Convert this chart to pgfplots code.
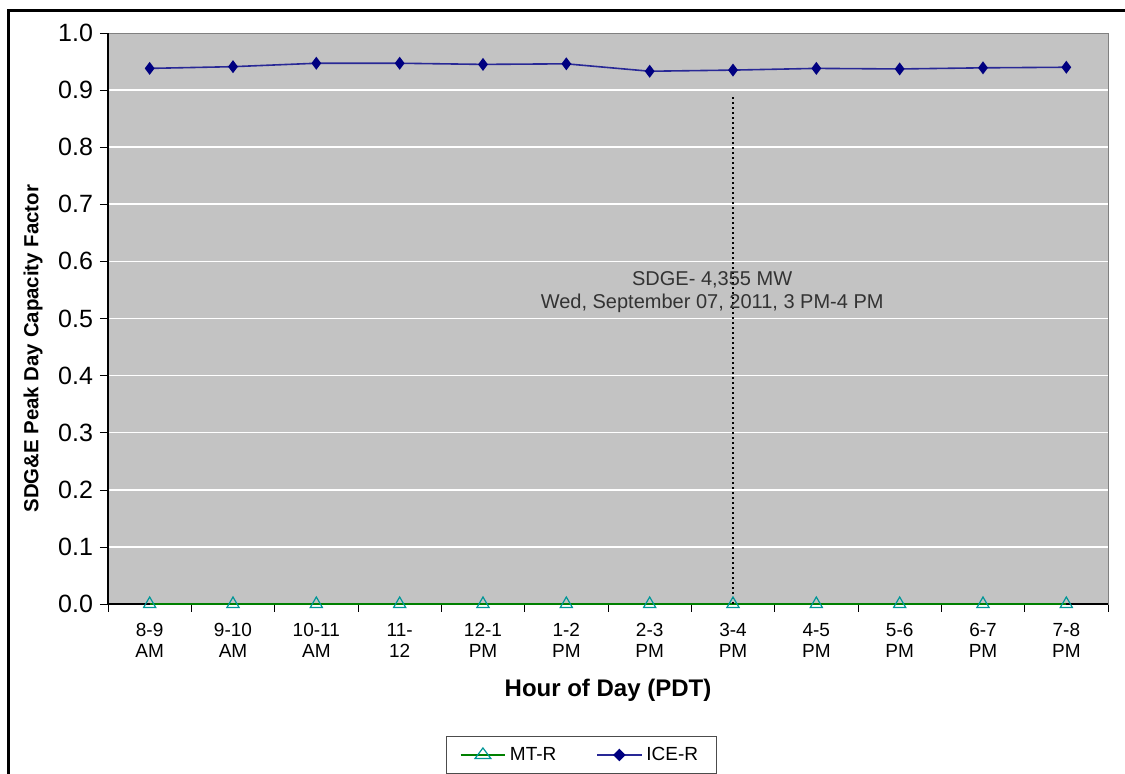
\documentclass[border=0pt]{standalone}
\usepackage{pgfplots}
\pgfplotsset{compat=1.18}
\usepackage{fontspec}
\setmainfont{Liberation Sans}
\definecolor{plotgray}{RGB}{195,195,195}
\definecolor{icecol}{RGB}{0,0,128}
\definecolor{icelinecol}{RGB}{40,40,150}
\definecolor{mtline}{RGB}{0,128,0}
\definecolor{mtmark}{RGB}{0,150,150}
\begin{document}
\begin{tikzpicture}
\draw[line width=1.5pt] (4.25pt,0) -- (4.25pt,381.5pt) -- (570pt,381.5pt);
\begin{axis}[
  at={(54pt,85pt)}, anchor=south west,
  scale only axis, width=500pt, height=285.5pt,
  xmin=-0.5, xmax=11.5, ymin=0, ymax=1,
  axis background/.style={fill=plotgray},
  axis line style={draw=gray},
  xtick pos=bottom, ytick pos=left,
  xtick={0,...,11},
  xticklabels={8-9\\AM,9-10\\AM,10-11\\AM,11-\\12,12-1\\PM,1-2\\PM,2-3\\PM,3-4\\PM,4-5\\PM,5-6\\PM,6-7\\PM,7-8\\PM},
  xticklabel style={align=center, font=\fontsize{9.5}{10.5}\selectfont, yshift=-2pt},
  major x tick style={draw=none},
  minor xtick={-0.5,0.5,...,11.5},
  minor x tick style={black},
  ytick={0,0.1,...,1.0},
  yticklabel style={font=\fontsize{12.5}{13}\selectfont},
  /pgf/number format/.cd, fixed, fixed zerofill, precision=1, assume math mode=true,
  /pgfplots/.cd,
  tick align=outside,
  major tick length=4pt, minor tick length=4pt,
  y tick style={black},
  ymajorgrids, grid style={white, line width=0.8pt},
  xlabel={\bfseries Hour of Day (PDT)},
  xlabel style={at={(axis description cs:0.5,-0.1506)}, anchor=center, font=\fontsize{12}{13}\selectfont},
  ylabel={\bfseries SDG\&E Peak Day Capacity Factor},
  ylabel style={at={(axis description cs:-0.075,0.447)}, anchor=center, font=\fontsize{10.2}{11}\selectfont},
  legend columns=2,
  legend style={at={(axis description cs:0.473,-0.2644)}, anchor=center, draw=black!70, font=\fontsize{9.5}{11}\selectfont, inner xsep=7pt, inner ysep=3pt, /tikz/every even column/.append style={column sep=18pt}},
  legend image post style={xscale=1.3},
  clip=false,
]
\draw[black, line width=0.6pt] (axis cs:-0.5,0) -- (axis cs:11.5,0);
\draw[black, line width=0.6pt] (axis cs:-0.5,0) -- (axis cs:-0.5,1);
\addplot[mtline, line width=0.8pt, mark=triangle, mark size=3.5pt, mark options={draw=mtmark, line width=0.6pt, fill=none}] coordinates {
(0,0) (1,0) (2,0) (3,0) (4,0) (5,0) (6,0) (7,0) (8,0) (9,0) (10,0) (11,0)};
\addlegendentry{MT-R}
\addplot[icelinecol, line width=0.8pt, mark=diamond*, mark size=2.6pt, mark options={fill=icecol, draw=icecol}] coordinates {
(0,0.938) (1,0.941) (2,0.947) (3,0.947) (4,0.945) (5,0.946) (6,0.933) (7,0.935) (8,0.938) (9,0.937) (10,0.939) (11,0.940)};
\addlegendentry{ICE-R}
\addplot[black, line width=1pt, dash pattern=on 1.2pt off 1.3pt, forget plot] coordinates {(7,0) (7,0.888)};
\node[align=center, text=black!80, font=\fontsize{10}{11.5}\selectfont] at (axis cs:6.75,0.547) {SDGE- 4,355 MW\\Wed, September 07, 2011, 3 PM-4 PM};
\end{axis}
\pgfresetboundingbox
\path[use as bounding box] (0,0) rectangle (562.5pt,387pt);
\end{tikzpicture}
\end{document}
